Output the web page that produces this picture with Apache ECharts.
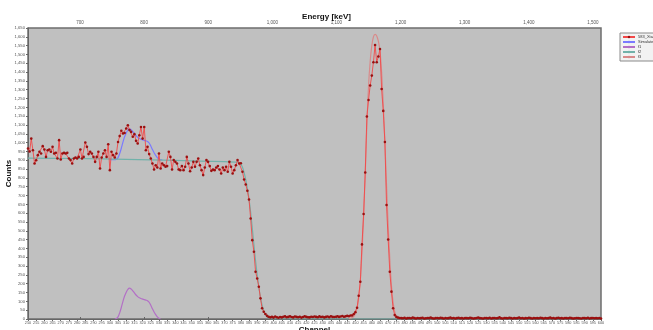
<!DOCTYPE html>
<html>
<head>
<meta charset="utf-8">
<script src="https://cdn.jsdelivr.net/npm/echarts@6/dist/echarts.min.js"></script>
<style>
html,body{margin:0;padding:0;background:#fff;}
#c{width:653px;height:330px;}
</style>
</head>
<body>
<div id="c"></div>
<script>
// ---- data ----
const channelStart = 250;
const counts = [
/*250*/ 967, 950, 1023, 957, 882, 900, 929, 948, 938, 980,
/*260*/ 961, 919, 957, 961, 948, 976, 938, 942, 910, 1014,
/*270*/ 904, 938, 942, 938, 942, 910, 901, 882, 910, 916,
/*280*/ 910, 919, 961, 910, 919, 1001, 976, 935, 948, 938,
/*290*/ 919, 891, 919, 948, 853, 916, 938, 957, 919, 991,
/*300*/ 844, 948, 929, 916, 938, 1004, 1037, 1067, 1052, 1055,
/*310*/ 1080, 1099, 1071, 1061, 1033, 1048, 1010, 995, 1042, 1089,
/*320*/ 1023, 1089, 957, 976, 935, 910, 882, 848, 872, 859,
/*330*/ 938, 853, 882, 872, 863, 867, 948, 919, 848, 901,
/*340*/ 891, 882, 848, 844, 867, 844, 863, 919, 882, 838,
/*350*/ 859, 891, 863, 891, 910, 872, 844, 816, 859, 901,
/*360*/ 891, 867, 840, 848, 844, 859, 867, 848, 825, 859,
/*370*/ 844, 863, 835, 891, 863, 825, 844, 872, 901, 882,
/*380*/ 883, 835, 791, 763, 727, 678, 570, 447, 381, 268,
/*390*/ 230, 183, 117, 61, 41, 28, 18, 12, 9, 12,
/*400*/ 8, 14, 10, 7, 11, 9, 13, 15, 10, 12,
/*410*/ 16, 11, 9, 14, 12, 10, 13, 8, 11, 15,
/*420*/ 12, 10, 9, 13, 11, 14, 12, 10, 15, 11,
/*430*/ 13, 9, 12, 14, 10, 16, 12, 11, 13, 15,
/*440*/ 12, 14, 17, 13, 15, 18, 16, 20, 20, 28,
/*450*/ 38, 64, 132, 211, 423, 595, 831, 1148, 1242, 1324,
/*460*/ 1380, 1456, 1554, 1456, 1488, 1531, 1304, 1180, 1004, 646,
/*470*/ 451, 268, 155, 61, 22, 12, 8, 6, 5, 4,
/*480*/ 7, 3, 5, 6, 4, 8, 5, 3, 6, 4,
/*490*/ 5, 7, 3, 4, 6, 5, 8, 4, 3, 5,
/*500*/ 6, 4, 7, 5, 3, 6, 4, 5, 8, 4,
/*510*/ 6, 3, 5, 7, 4, 5, 3, 6, 5, 4,
/*520*/ 7, 5, 3, 4, 6, 8, 5, 4, 3, 6,
/*530*/ 5, 4, 7, 3, 5, 6, 4, 5, 9, 4,
/*540*/ 3, 6, 5, 4, 7, 5, 3, 6, 4, 5,
/*550*/ 8, 4, 6, 3, 5, 4, 7, 5, 3, 6,
/*560*/ 4, 5, 4, 7, 5, 3, 6, 4, 5, 8,
/*570*/ 4, 6, 3, 5, 7, 4, 5, 3, 6, 5,
/*580*/ 4, 7, 5, 3, 4, 6, 5, 4, 3, 6,
/*590*/ 5, 4, 7, 3, 5, 6, 4, 5, 4, 6,
/*600*/ 3
];

// f1: bump component (channels / values)
const f1Channels = [303,304,305,306,307,308,309,310,311,312,313,314,315,316,317,318,319,320,321,322,323,324,325,326,327,328,329,330,331];
const f1Values   = [0,3,12,35,65,100,130,152,168,175,170,160,148,136,127,120,116,113,110,107,104,95,78,58,40,25,12,4,0];

// f2: step background
const f2Channels = [250,280,310,340,370,378,379,380,381,382,383,384,385,386,387,388,389,390,391,392,393,394,395,396,397,398,399,600];
const f2Values   = [912,910,905,899,892,889,886,878,860,830,790,740,680,605,515,420,330,250,180,122,78,46,25,13,6,2,0,0];

// f3: full-energy peak component
const f3Channels = [446,447,448,449,450,451,452,453,454,455,456,457,458,459,460,461,462,463,464,465,466,467,468,469,470,471,472,473,474,475,476,477,478];
const f3Values   = [2,4,8,15,30,60,120,220,380,580,830,1100,1320,1460,1550,1600,1614,1605,1575,1520,1400,1220,1000,760,530,340,190,95,42,16,5,1,0];

// Simulated total (visible around the bump)
const simChannels = [300,301,302,303,304,305,306,307,308,309,310,311,312,313,314,315,316,317,318,319,320,321,322,323,324,325,326,327,328,329,330,331,332];
const simValues   = [903,903,903,903,906,915,938,968,1003,1033,1055,1071,1078,1073,1063,1051,1039,1030,1023,1019,1016,1013,1010,1007,998,981,961,943,928,915,907,902,902];

const energyTicks = [700,800,900,1000,1100,1200,1300,1400,1500];
const seriesNames = ['583_Xtal-A', 'Simulated', 'f1', 'f2', 'f3'];

// ---- chart ----
const pairs = (xs, ys) => xs.map((x, i) => [x, ys[i]]);
const dataPairs = counts.map((v, i) => [channelStart + i, v]);

const chart = echarts.init(document.getElementById('c'), null, {renderer: 'canvas'});
const labelFont = {fontFamily: 'Liberation Sans, Arial, sans-serif', color: '#555'};

chart.setOption({
  backgroundColor: '#ffffff',
  animation: false,
  title: {
    text: 'Energy [keV]',
    left: 'center',
    top: 8,
    textStyle: {fontFamily: 'Liberation Sans, Arial, sans-serif', fontSize: 8, fontWeight: 'bold', color: '#111'}
  },
  legend: {
    orient: 'vertical',
    left: 620,
    top: 33,
    itemWidth: 12,
    itemHeight: 3,
    itemGap: 1,
    padding: [2, 2, 2, 2],
    backgroundColor: '#f2f2f2',
    borderColor: '#8a8a8a',
    borderWidth: 1,
    textStyle: {fontSize: 4, color: '#333', fontFamily: 'Liberation Sans, Arial, sans-serif', padding: [0,0,0,-2]},
    data: seriesNames
  },
  grid: {
    left: 28, right: 52, top: 28, bottom: 11,
    outerBoundsMode: 'none',
    containLabel: false,
    show: true,
    backgroundColor: '#c0c0c0',
    borderColor: '#6e6e6e',
    borderWidth: 1.5
  },
  xAxis: [
    {
      type: 'value',
      position: 'bottom',
      min: 250, max: 600, interval: 5,
      name: 'Channel',
      nameLocation: 'middle',
      nameGap: 7,
      nameMoveOverlap: false,
      nameTextStyle: {fontFamily: 'Liberation Sans, Arial, sans-serif', fontSize: 8, fontWeight: 'bold', color: '#111', verticalAlign: 'top'},
      axisLine: {show: true, onZero: false, lineStyle: {color: '#666', width: 1}},
      axisTick: {show: true, length: 2, lineStyle: {color: '#666'}},
      axisLabel: Object.assign({fontSize: 3.8, margin: 2}, labelFont),
      splitLine: {show: false}
    },
    {
      type: 'value',
      position: 'top',
      min: 618.9, max: 1512.5,
      axisLine: {show: true, lineStyle: {color: '#666', width: 1}},
      axisTick: {show: true, length: 2, customValues: energyTicks, lineStyle: {color: '#666'}},
      axisLabel: Object.assign({fontSize: 4.5, margin: 3, customValues: energyTicks}, labelFont),
      splitLine: {show: false}
    }
  ],
  yAxis: {
    type: 'value',
    min: 0, max: 1650, interval: 50,
    name: 'Counts',
    nameLocation: 'middle',
    nameGap: 15,
    nameMoveOverlap: false,
    nameRotate: 90,
    nameTextStyle: {fontFamily: 'Liberation Sans, Arial, sans-serif', fontSize: 8, fontWeight: 'bold', color: '#111'},
    axisLine: {show: true, lineStyle: {color: '#666', width: 1}},
    axisTick: {show: true, length: 2, lineStyle: {color: '#666'}},
    axisLabel: Object.assign({fontSize: 4.2, margin: 3, formatter: v => v.toLocaleString('en-US')}, labelFont),
    splitLine: {show: false}
  },
  series: [
    {
      name: seriesNames[1], type: 'line', xAxisIndex: 0, data: pairs(simChannels, simValues),
      showSymbol: false, symbol: 'none', smooth: 0.3, z: 2,
      lineStyle: {color: '#7a7aff', width: 1.2}, itemStyle: {color: '#7a7aff'}
    },
    {
      name: seriesNames[3], type: 'line', xAxisIndex: 0, data: pairs(f2Channels, f2Values),
      showSymbol: false, symbol: 'none', smooth: 0.2, z: 3,
      lineStyle: {color: '#72b2aa', width: 1.2}, itemStyle: {color: '#72b2aa'}
    },
    {
      name: seriesNames[2], type: 'line', xAxisIndex: 0, data: pairs(f1Channels, f1Values),
      showSymbol: false, symbol: 'none', smooth: 0.3, z: 3,
      lineStyle: {color: '#b36fc6', width: 1.2}, itemStyle: {color: '#b36fc6'}
    },
    {
      name: seriesNames[4], type: 'line', xAxisIndex: 0, data: pairs(f3Channels, f3Values),
      showSymbol: false, symbol: 'none', smooth: 0.3, z: 4,
      lineStyle: {color: '#d98a8a', width: 1.2}, itemStyle: {color: '#d98a8a'}
    },
    {
      name: seriesNames[0], type: 'line', xAxisIndex: 0, data: dataPairs,
      symbol: 'circle', symbolSize: 2.6, showSymbol: true, z: 5,
      lineStyle: {color: '#f24848', width: 0.9},
      itemStyle: {color: '#9a1010', borderWidth: 0}
    }
  ]
});
</script>
</body>
</html>
